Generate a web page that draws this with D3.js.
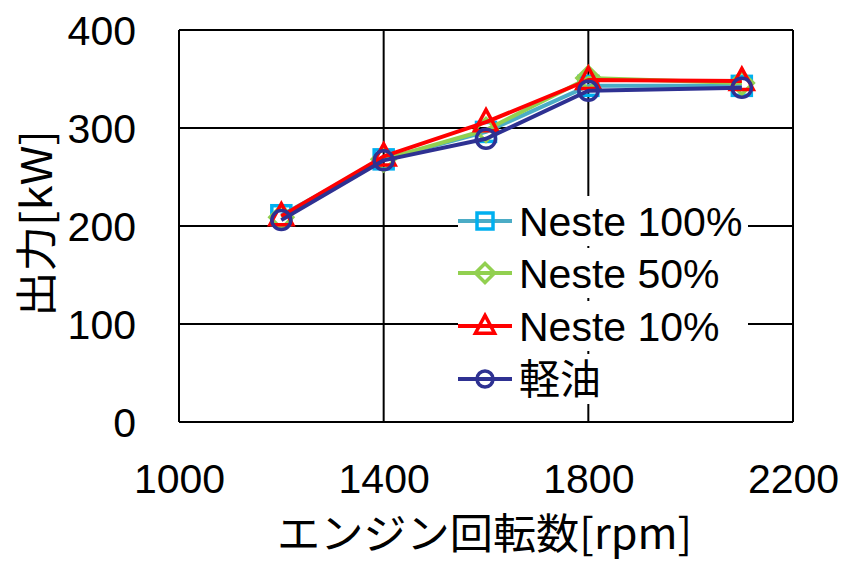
<!DOCTYPE html>
<html>
<head>
<meta charset="utf-8">
<script src="https://cdn.jsdelivr.net/npm/d3@7"></script>
<style>
  html, body { margin: 0; padding: 0; background: #fff; }
  svg { display: block; }
  text { font-family: "Liberation Sans", Arial, "Noto Sans CJK JP", sans-serif; fill: #000; }
</style>
</head>
<body>
<svg id="chart" width="844" height="562"></svg>
<script>
// Engine speed (rpm) and output (kW) per fuel
const rpm = [1200, 1400, 1600, 1800, 2100];
const neste100 = [211, 268, 296, 343, 343];
const neste50 = [209, 268, 298, 351, 346];
const neste10 = [210, 271, 306, 349, 348];
const keiyu = [206, 267, 289, 338, 341];

const seriesNames = ["Neste 100%", "Neste 50%", "Neste 10%", "軽油"];
const xTicks = [1000, 1400, 1800, 2200];
const yTicks = [0, 100, 200, 300, 400];
const xTitle = "エンジン回転数[rpm]";
const yTitle = "出力[kW]";

const series = [
  { name: seriesNames[0], values: neste100, line: "#4BACC6", mark: "#00B0F0", shape: "square" },
  { name: seriesNames[1], values: neste50, line: "#92D050", mark: "#92D050", shape: "diamond" },
  { name: seriesNames[2], values: neste10, line: "#FF0000", mark: "#FF0000", shape: "triangle" },
  { name: seriesNames[3], values: keiyu, line: "#2E3192", mark: "#2E3192", shape: "circle" }
];

const svg = d3.select("#chart");
const plotL = 179, plotR = 793, plotT = 30, plotB = 422;

const x = d3.scaleLinear().domain([1000, 2200]).range([plotL, plotR]);
const y = d3.scaleLinear().domain([0, 400]).range([plotB, plotT]);

// gridlines
const grid = svg.append("g");
grid.selectAll("line.v").data(xTicks).join("line")
  .attr("x1", d => x(d)).attr("x2", d => x(d))
  .attr("y1", plotT).attr("y2", plotB)
  .attr("stroke", "#000").attr("stroke-width", 2);
grid.selectAll("line.h").data(yTicks).join("line")
  .attr("x1", plotL).attr("x2", plotR)
  .attr("y1", d => y(d)).attr("y2", d => y(d))
  .attr("stroke", "#000").attr("stroke-width", 2);

// axes (labels only, the grid forms the frame)
const xAxis = svg.append("g").attr("transform", `translate(0,${plotB})`)
  .call(d3.axisBottom(x).tickValues(xTicks).tickSize(0).tickPadding(0).tickFormat(d3.format("d")));
xAxis.select(".domain").remove();
xAxis.selectAll("text").attr("font-size", 41).attr("dy", null).attr("y", 71)
  .style("font-family", '"Liberation Sans", Arial, sans-serif');

const yAxis = svg.append("g").attr("transform", `translate(${plotL},0)`)
  .call(d3.axisLeft(y).tickValues(yTicks).tickSize(0).tickPadding(0).tickFormat(d3.format("d")));
yAxis.select(".domain").remove();
yAxis.selectAll("text").attr("font-size", 41).attr("x", -43).attr("dy", "0.36em")
  .style("font-family", '"Liberation Sans", Arial, sans-serif');

// axis titles
svg.append("text")
  .attr("x", 277).attr("y", 549)
  .attr("font-size", 42)
  .attr("textLength", 415).attr("lengthAdjust", "spacingAndGlyphs")
  .style("font-family", '"Noto Sans CJK JP", "Liberation Sans", sans-serif')
  .text(xTitle);

svg.append("text")
  .attr("transform", "translate(52,317) rotate(-90)")
  .attr("font-size", 42)
  .attr("textLength", 187).attr("lengthAdjust", "spacingAndGlyphs")
  .style("font-family", '"Noto Sans CJK JP", "Liberation Sans", sans-serif')
  .text(yTitle);

// marker shapes
function marker(g, shape, color, size) {
  const sw = 3.5;
  if (shape === "square") {
    g.append("rect").attr("x", -size / 2).attr("y", -size / 2)
      .attr("width", size).attr("height", size)
      .attr("fill", "none").attr("stroke", color).attr("stroke-width", sw);
  } else if (shape === "diamond") {
    const s = size * 0.6;
    g.append("path").attr("d", `M0,${-s}L${s},0L0,${s}L${-s},0Z`)
      .attr("fill", "none").attr("stroke", color).attr("stroke-width", sw);
  } else if (shape === "triangle") {
    const s = size * 0.6;
    g.append("path").attr("d", `M0,${-s * 1.1}L${s},${s * 0.75}L${-s},${s * 0.75}Z`)
      .attr("fill", "none").attr("stroke", color).attr("stroke-width", sw);
  } else {
    g.append("circle").attr("r", size / 2)
      .attr("fill", "none").attr("stroke", color).attr("stroke-width", sw);
  }
}

// lines and markers
const line = d3.line().x((d, i) => x(rpm[i])).y(d => y(d));
series.forEach(s => {
  const g = svg.append("g");
  g.append("path").datum(s.values).attr("d", line)
    .attr("fill", "none").attr("stroke", s.line).attr("stroke-width", 4)
    .attr("stroke-linejoin", "round");
  s.values.forEach((v, i) => {
    const m = g.append("g").attr("transform", `translate(${x(rpm[i])},${y(v)})`);
    marker(m, s.shape, s.mark, 19);
  });
});

// legend
const legend = svg.append("g");
const rowY = [221, 273, 326, 379];
series.forEach((s, i) => {
  const g = legend.append("g").attr("transform", `translate(485,${rowY[i]})`);
  g.append("rect").attr("x", -27).attr("y", -25).attr("width", 290).attr("height", 50)
    .attr("fill", "#fff");
  g.append("line").attr("x1", -27).attr("x2", 27)
    .attr("stroke", s.line).attr("stroke-width", 4);
  marker(g, s.shape, s.mark, 16);
  g.append("text").attr("x", 34).attr("y", 15)
    .attr("font-size", 41)
    .style("font-family", '"Liberation Sans", Arial, "Noto Sans CJK JP", sans-serif')
    .text(s.name);
});
</script>
</body>
</html>
